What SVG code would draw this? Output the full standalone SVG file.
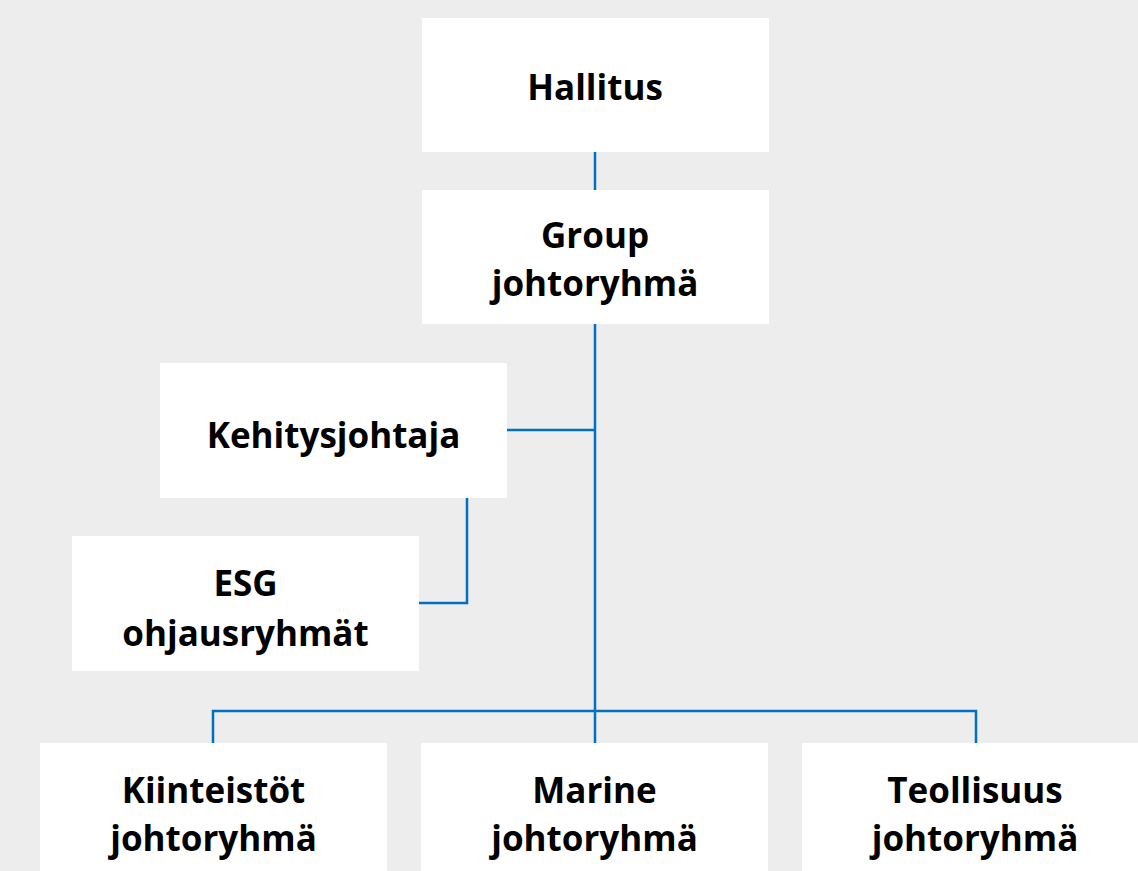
<svg xmlns="http://www.w3.org/2000/svg" width="1138" height="871" viewBox="0 0 1138 871">
<style>
.box{fill:#ffffff}
.t{font-family:"Open Sans","Liberation Sans",sans-serif;font-weight:bold;font-size:35px;fill:#000;text-anchor:middle}
.c{fill:none;stroke:#0070c0;stroke-width:2.5}
</style>
<rect x="0" y="0" width="1138" height="871" fill="#ededed"/>
<g id="connectors">
<line class="c" x1="595" y1="152" x2="595" y2="190"/>
<line class="c" x1="595" y1="324" x2="595" y2="743"/>
<line class="c" x1="507" y1="430" x2="595" y2="430"/>
<polyline class="c" points="467,498 467,603 419,603"/>
<polyline class="c" points="213,743 213,711 976,711 976,743"/>
</g>
<g id="hallitus"><rect class="box" x="422" y="18" width="347" height="134"/><text class="t" x="595" y="100">Hallitus</text></g>
<g id="group"><rect class="box" x="422" y="190" width="347" height="134"/><text class="t" x="595" y="248">Group</text><text class="t" x="595" y="296">johtoryhmä</text></g>
<g id="kehitysjohtaja"><rect class="box" x="160" y="363" width="347" height="135"/><text class="t" x="333.5" y="448">Kehitysjohtaja</text></g>
<g id="esg"><rect class="box" x="72" y="536" width="347" height="135"/><text class="t" x="245.5" y="596">ESG</text><text class="t" x="245.5" y="646">ohjausryhmät</text></g>
<g id="kiinteistot"><rect class="box" x="40" y="743" width="347" height="140"/><text class="t" x="213.5" y="803">Kiinteistöt</text><text class="t" x="213.5" y="851">johtoryhmä</text></g>
<g id="marine"><rect class="box" x="421" y="743" width="347" height="140"/><text class="t" x="594.5" y="803">Marine</text><text class="t" x="594.5" y="851">johtoryhmä</text></g>
<g id="teollisuus"><rect class="box" x="802" y="743" width="347" height="140"/><text class="t" x="975" y="803">Teollisuus</text><text class="t" x="975" y="851">johtoryhmä</text></g>
</svg>
